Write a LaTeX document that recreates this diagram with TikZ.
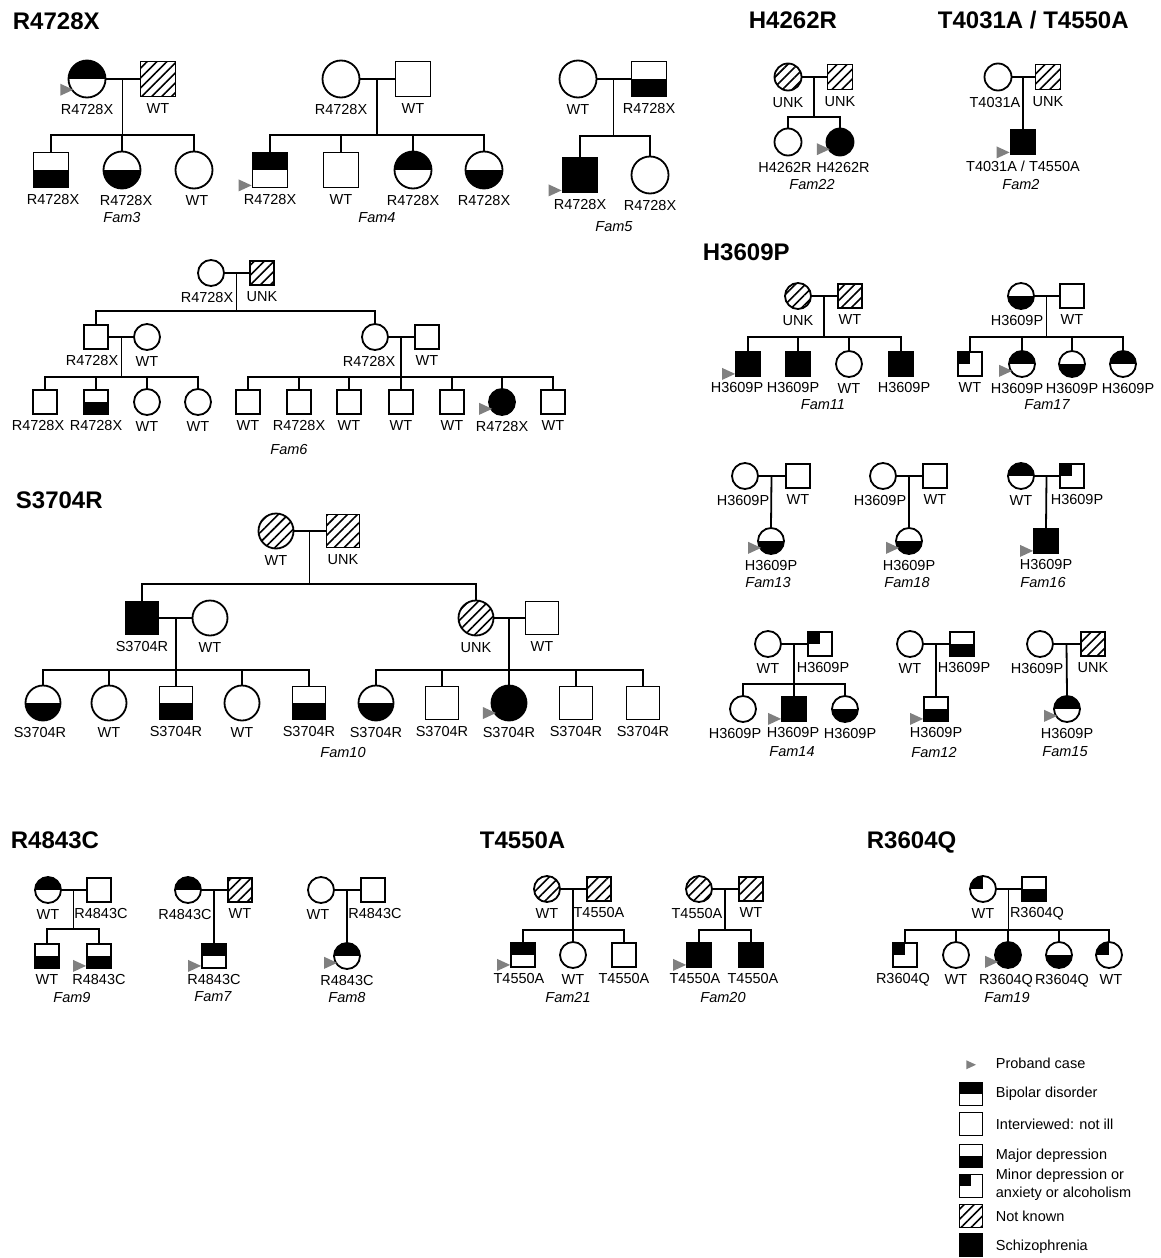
\documentclass[tikz,border=0pt]{standalone}
\usepackage{fontspec}
\setmainfont{Liberation Sans}
\usetikzlibrary{calc,patterns.meta}

\begin{document}
\begin{tikzpicture}[x=1pt, y=-1pt, line width=1.8pt,
    sq/.style={draw, fill=white, rectangle, inner sep=0pt, minimum size=#1}, sq/.default=24,
    ci/.style={draw, fill=white, circle, inner sep=0pt, minimum size=#1}, ci/.default=26,
    bp/.style={path picture={\fill[black] (path picture bounding box.north west) rectangle (path picture bounding box.east);}},
    md/.style={path picture={\fill[black] (path picture bounding box.west) rectangle (path picture bounding box.south east);}},
    mi/.style={path picture={\fill[black] (path picture bounding box.north west) rectangle (path picture bounding box.center);}},
    nk/.style={pattern={Lines[angle=45, distance=7pt, line width=1.6pt]}},
    sz/.style={fill=black},
    label distance=5pt,
    every label/.style={font=\fontsize{14.5}{17}\selectfont, inner sep=0pt},
    hd/.style={font=\bfseries\fontsize{24}{28}\selectfont, anchor=base west, inner sep=0pt},
    fam/.style={font=\itshape\fontsize{14.5}{17}\selectfont, inner sep=0pt},
    lgt/.style={font=\fontsize{14.5}{18}\selectfont, anchor=west, align=left, inner sep=0pt},
    proband/.pic={\fill[gray] (0,-3) -- ++(-13,-6) -- ++(0,12) -- cycle;}]
    \useasboundingbox (0,0) rectangle (1160,1258);

    % R4728X
    \node[hd] (h1) at (12,29) {R4728X};
    \node[ci=37, bp, label=below:R4728X] (f3m) at (87,79) {};
    \node[sq=35, nk, label=below:WT] (f3f) at (158,79) {};
    \node[sq=35, md, label={[xshift=2pt]below:R4728X}] (f3k1) at (51,170) {};
    \node[ci=37, md, label={[xshift=4pt]below:R4728X}] (f3k2) at (122,170) {};
    \node[ci=37, label={[xshift=3pt]below:WT}] (f3k3) at (194,170) {};
    \node[fam] (t3) at (122,218) {Fam3};
    \coordinate (f3u) at ($(f3m)!0.5!(f3f)$);
    \draw (f3m) -- (f3f);
    \draw (f3u) -- ++(0,56) coordinate (f3s);
    \draw (f3k1.north) |- (f3s) -| (f3k3.north);
    \draw (f3k2.north) -- (f3k2.north |- f3s);
    \path (f3m.225) pic {proband};

    \node[ci=37, label=below:R4728X] (f4m) at (341,79) {};
    \node[sq=35, label=below:WT] (f4f) at (413,79) {};
    \node[sq=35, bp, label=below:R4728X] (f4k1) at (270,170) {};
    \node[sq=35, label=below:WT] (f4k2) at (341,170) {};
    \node[ci=37, bp, label=below:R4728X] (f4k3) at (413,170) {};
    \node[ci=37, md, label=below:R4728X] (f4k4) at (484,170) {};
    \node[fam] (t4) at (377,218) {Fam4};
    \coordinate (f4u) at ($(f4m)!0.5!(f4f)$);
    \draw (f4m) -- (f4f);
    \draw (f4u) -- ++(0,56) coordinate (f4s);
    \draw (f4k1.north) |- (f4s) -| (f4k4.north);
    \foreach \k in {f4k2,f4k3} \draw (\k.north) -- (\k.north |- f4s);
    \path (f4k1.225) pic {proband};

    \node[ci=37, label=below:WT] (f5m) at (578,79) {};
    \node[sq=35, md, label=below:R4728X] (f5f) at (649,79) {};
    \node[sq=35, sz, label=below:R4728X] (f5k1) at (580,175) {};
    \node[ci=37, label=below:R4728X] (f5k2) at (650,175) {};
    \node[fam] (t5) at (614,227) {Fam5};
    \coordinate (f5u) at ($(f5m)!0.5!(f5f)$);
    \draw (f5m) -- (f5f);
    \draw (f5u) -- ++(0,57) coordinate (f5s);
    \draw (f5k1.north) |- (f5s) -| (f5k2.north);
    \path (f5k1.225) pic {proband};

    % H4262R, T4031A / T4550A
    \node[hd] (h2) at (748,28) {H4262R};
    \node[ci=27, nk, label=below:UNK] (f22m) at (788,77) {};
    \node[sq=25, nk, label=below:UNK] (f22f) at (840,77) {};
    \node[ci=27, label={[xshift=-3pt]below:H4262R}] (f22k1) at (788,142) {};
    \node[ci=27, sz, label={[xshift=3pt]below:H4262R}] (f22k2) at (840,142) {};
    \node[fam] (t22) at (812,185) {Fam22};
    \coordinate (f22u) at ($(f22m)!0.5!(f22f)$);
    \draw (f22m) -- (f22f);
    \draw (f22u) -- ++(0,40) coordinate (f22s);
    \draw (f22k1.north) |- (f22s) -| (f22k2.north);
    \path (f22k2.225) pic {proband};

    \node[hd] (h3) at (937,28) {T4031A / T4550A};
    \node[ci=27, label={[xshift=-3pt]below:T4031A}] (f2m) at (998,77) {};
    \node[sq=25, nk, label=below:UNK] (f2f) at (1048,77) {};
    \node[sq=25, sz, label=below:T4031A / T4550A] (f2k) at (1023,142) {};
    \node[fam] (t2) at (1021,185) {Fam2};
    \coordinate (f2u) at ($(f2m)!0.5!(f2f)$);
    \draw (f2m) -- (f2f);
    \draw (f2u) -- (f2k.north);
    \path (f2k.225) pic {proband};

    % Fam6
    \node[ci=26, label={[xshift=-4pt]below:R4728X}] (f6m) at (211,273) {};
    \node[sq=24, nk, label=below:UNK] (f6f) at (262,273) {};
    \node[sq=24, label={[xshift=-4pt]below:R4728X}] (f6a) at (96,337) {};
    \node[ci=26, label=below:WT] (f6aw) at (147,337) {};
    \node[ci=26, label={[xshift=-6pt]below:R4728X}] (f6b) at (375,337) {};
    \node[sq=24, label=below:WT] (f6bh) at (427,337) {};
    \node[sq=24, label={[xshift=-7pt]below:R4728X}] (f6a1) at (45,402) {};
    \node[sq=24, md, label=below:R4728X] (f6a2) at (96,402) {};
    \node[ci=26, label=below:WT] (f6a3) at (147,402) {};
    \node[ci=26, label=below:WT] (f6a4) at (198,402) {};
    \node[sq=24, label=below:WT] (f6b1) at (248,402) {};
    \node[sq=24, label=below:R4728X] (f6b2) at (299,402) {};
    \node[sq=24, label=below:WT] (f6b3) at (349,402) {};
    \node[sq=24, label=below:WT] (f6b4) at (401,402) {};
    \node[sq=24, label=below:WT] (f6b5) at (452,402) {};
    \node[ci=26, sz, label=below:R4728X] (f6b6) at (502,402) {};
    \node[sq=24, label=below:WT] (f6b7) at (553,402) {};
    \node[fam] (t6) at (289,450) {Fam6};
    \coordinate (f6u) at ($(f6m)!0.5!(f6f)$);
    \draw (f6m) -- (f6f);
    \draw (f6u) -- ++(0,38) coordinate (f6s);
    \draw (f6a.north) |- (f6s) -| (f6b.north);
    \coordinate (f6au) at ($(f6a)!0.5!(f6aw)$);
    \draw (f6a) -- (f6aw);
    \draw (f6au) -- ++(0,40) coordinate (f6as);
    \draw (f6a1.north) |- (f6as) -| (f6a4.north);
    \foreach \k in {f6a2,f6a3} \draw (\k.north) -- (\k.north |- f6as);
    \coordinate (f6bu) at ($(f6b)!0.5!(f6bh)$);
    \draw (f6b) -- (f6bh);
    \draw (f6bu) -- ++(0,40) coordinate (f6bs);
    \draw (f6b1.north) |- (f6bs) -| (f6b7.north);
    \foreach \k in {f6b2,f6b3,f6b4,f6b5,f6b6} \draw (\k.north) -- (\k.north |- f6bs);
    \path (f6b6.225) pic {proband};

    % H3609P
    \node[hd] (h4) at (702,260) {H3609P};
    \node[ci=26, nk, label=below:UNK] (f11m) at (798,296) {};
    \node[sq=24, nk, label=below:WT] (f11f) at (850,296) {};
    \node[sq=24, sz, label={[xshift=-11pt]below:H3609P}] (f11k1) at (748,364) {};
    \node[sq=24, sz, label={[xshift=-5pt]below:H3609P}] (f11k2) at (798,364) {};
    \node[ci=26, label=below:WT] (f11k3) at (849,364) {};
    \node[sq=24, sz, label={[xshift=3pt]below:H3609P}] (f11k4) at (901,364) {};
    \node[fam] (t11) at (823,405) {Fam11};
    \coordinate (f11u) at ($(f11m)!0.5!(f11f)$);
    \draw (f11m) -- (f11f);
    \draw (f11u) -- ++(0,41) coordinate (f11s);
    \draw (f11k1.north) |- (f11s) -| (f11k4.north);
    \foreach \k in {f11k2,f11k3} \draw (\k.north) -- (\k.north |- f11s);
    \path (f11k1.225) pic {proband};

    \node[ci=26, md, label={[xshift=-4pt]below:H3609P}] (f17m) at (1021,296) {};
    \node[sq=24, label=below:WT] (f17f) at (1072,296) {};
    \node[sq=24, mi, label=below:WT] (f17k1) at (970,364) {};
    \node[ci=26, bp, label={[xshift=-5pt]below:H3609P}] (f17k2) at (1022,364) {};
    \node[ci=26, md, label=below:H3609P] (f17k3) at (1072,364) {};
    \node[ci=26, bp, label={[xshift=5pt]below:H3609P}] (f17k4) at (1123,364) {};
    \node[fam] (t17) at (1047,405) {Fam17};
    \coordinate (f17u) at ($(f17m)!0.5!(f17f)$);
    \draw (f17m) -- (f17f);
    \draw (f17u) -- ++(0,41) coordinate (f17s);
    \draw (f17k1.north) |- (f17s) -| (f17k4.north);
    \foreach \k in {f17k2,f17k3} \draw (\k.north) -- (\k.north |- f17s);
    \path (f17k2.225) pic {proband};

    \node[ci=26, label={[xshift=-2pt]below:H3609P}] (f13m) at (745,476) {};
    \node[sq=24, label=below:WT] (f13f) at (798,476) {};
    \node[ci=26, md, label=below:H3609P] (f13k) at (771,541) {};
    \node[fam] (t13) at (768,583) {Fam13};
    \coordinate (f13u) at ($(f13m)!0.5!(f13f)$);
    \draw (f13m) -- (f13f);
    \draw (f13u) -- (f13k.north);
    \path (f13k.225) pic {proband};

    \node[ci=26, label={[xshift=-3pt]below:H3609P}] (f18m) at (883,476) {};
    \node[sq=24, label=below:WT] (f18f) at (935,476) {};
    \node[ci=26, md, label=below:H3609P] (f18k) at (909,541) {};
    \node[fam] (t18) at (907,583) {Fam18};
    \coordinate (f18u) at ($(f18m)!0.5!(f18f)$);
    \draw (f18m) -- (f18f);
    \draw (f18u) -- (f18k.north);
    \path (f18k.225) pic {proband};

    \node[ci=26, bp, label=below:WT] (f16m) at (1021,476) {};
    \node[sq=24, mi, label={[xshift=5pt]below:H3609P}] (f16f) at (1072,476) {};
    \node[sq=24, sz, label=below:H3609P] (f16k) at (1046,541) {};
    \node[fam] (t16) at (1043,583) {Fam16};
    \coordinate (f16u) at ($(f16m)!0.5!(f16f)$);
    \draw (f16m) -- (f16f);
    \draw (f16u) -- (f16k.north);
    \path (f16k.225) pic {proband};

    \node[ci=26, label=below:WT] (f14m) at (768,644) {};
    \node[sq=24, mi, label={[xshift=3pt]below:H3609P}] (f14f) at (820,644) {};
    \node[ci=26, label={[xshift=-8pt]below:H3609P}] (f14k1) at (743,709) {};
    \node[sq=24, sz, label={[xshift=-1pt]below:H3609P}] (f14k2) at (794,709) {};
    \node[ci=26, md, label={[xshift=5pt]below:H3609P}] (f14k3) at (845,709) {};
    \node[fam] (t14) at (792,752) {Fam14};
    \coordinate (f14u) at ($(f14m)!0.5!(f14f)$);
    \draw (f14m) -- (f14f);
    \draw (f14u) -- ++(0,40) coordinate (f14s);
    \draw (f14k1.north) |- (f14s) -| (f14k3.north);
    \draw (f14k2.north) -- (f14k2.north |- f14s);
    \path (f14k2.225) pic {proband};

    \node[ci=26, label=below:WT] (f12m) at (910,644) {};
    \node[sq=24, md, label={[xshift=2pt]below:H3609P}] (f12f) at (962,644) {};
    \node[sq=24, md, label=below:H3609P] (f12k) at (936,709) {};
    \node[fam] (t12) at (934,752) {Fam12};
    \coordinate (f12u) at ($(f12m)!0.5!(f12f)$);
    \draw (f12m) -- (f12f);
    \draw (f12u) -- (f12k.north);
    \path (f12k.225) pic {proband};

    \node[ci=26, label={[xshift=-3pt]below:H3609P}] (f15m) at (1040,644) {};
    \node[sq=24, nk, label=below:UNK] (f15f) at (1093,644) {};
    \node[ci=26, bp, label=below:H3609P] (f15k) at (1067,709) {};
    \node[fam] (t15) at (1065,752) {Fam15};
    \coordinate (f15u) at ($(f15m)!0.5!(f15f)$);
    \draw (f15m) -- (f15f);
    \draw (f15u) -- (f15k.north);
    \path (f15k.225) pic {proband};

    % S3704R
    \node[hd] (h5) at (15,508) {S3704R};
    \node[ci=35, nk, label=below:WT] (f10m) at (276,531) {};
    \node[sq=33, nk, label=below:UNK] (f10f) at (343,531) {};
    \node[sq=33, sz, label=below:S3704R] (f10a) at (142,618) {};
    \node[ci=35, label=below:WT] (f10aw) at (210,618) {};
    \node[ci=35, nk, label=below:UNK] (f10b) at (476,618) {};
    \node[sq=33, label=below:WT] (f10bh) at (542,618) {};
    \node[ci=35, md, label={[xshift=-3pt]below:S3704R}] (f10a1) at (43,703) {};
    \node[ci=35, label=below:WT] (f10a2) at (109,703) {};
    \node[sq=33, md, label=below:S3704R] (f10a3) at (176,703) {};
    \node[ci=35, label=below:WT] (f10a4) at (242,703) {};
    \node[sq=33, md, label=below:S3704R] (f10a5) at (309,703) {};
    \node[ci=35, md, label=below:S3704R] (f10b1) at (376,703) {};
    \node[sq=33, label=below:S3704R] (f10b2) at (442,703) {};
    \node[ci=35, sz, label=below:S3704R] (f10b3) at (509,703) {};
    \node[sq=33, label=below:S3704R] (f10b4) at (576,703) {};
    \node[sq=33, label=below:S3704R] (f10b5) at (643,703) {};
    \node[fam] (t10) at (343,752) {Fam10};
    \coordinate (f10u) at ($(f10m)!0.5!(f10f)$);
    \draw (f10m) -- (f10f);
    \draw (f10u) -- ++(0,53) coordinate (f10s);
    \draw (f10a.north) |- (f10s) -| (f10b.north);
    \coordinate (f10au) at ($(f10a)!0.5!(f10aw)$);
    \draw (f10a) -- (f10aw);
    \draw (f10au) -- ++(0,52) coordinate (f10as);
    \draw (f10a1.north) |- (f10as) -| (f10a5.north);
    \foreach \k in {f10a2,f10a3,f10a4} \draw (\k.north) -- (\k.north |- f10as);
    \coordinate (f10bu) at ($(f10b)!0.5!(f10bh)$);
    \draw (f10b) -- (f10bh);
    \draw (f10bu) -- ++(0,52) coordinate (f10bs);
    \draw (f10b1.north) |- (f10bs) -| (f10b5.north);
    \foreach \k in {f10b2,f10b3,f10b4} \draw (\k.north) -- (\k.north |- f10bs);
    \path (f10b3.225) pic {proband};

    % R4843C
    \node[hd] (h6) at (10,848) {R4843C};
    \node[ci=26, bp, label=below:WT] (f9m) at (48,890) {};
    \node[sq=24, label={[xshift=2pt]below:R4843C}] (f9f) at (99,890) {};
    \node[sq=24, md, label=below:WT] (f9k1) at (47,956) {};
    \node[sq=24, md, label=below:R4843C] (f9k2) at (99,956) {};
    \node[fam] (t9) at (72,997) {Fam9};
    \coordinate (f9u) at ($(f9m)!0.5!(f9f)$);
    \draw (f9m) -- (f9f);
    \draw (f9u) -- ++(0,39) coordinate (f9s);
    \draw (f9k1.north) |- (f9s) -| (f9k2.north);
    \path (f9k2.225) pic {proband};

    \node[ci=26, bp, label={[xshift=-3pt]below:R4843C}] (f7m) at (188,890) {};
    \node[sq=24, nk, label=below:WT] (f7f) at (240,890) {};
    \node[sq=24, bp, label=below:R4843C] (f7k) at (214,956) {};
    \node[fam] (t7) at (213,997) {Fam7};
    \coordinate (f7u) at ($(f7m)!0.5!(f7f)$);
    \draw (f7m) -- (f7f);
    \draw (f7u) -- (f7k.north);
    \path (f7k.225) pic {proband};

    \node[ci=26, label={[xshift=-3pt]below:WT}] (f8m) at (321,890) {};
    \node[sq=24, label={[xshift=2pt]below:R4843C}] (f8f) at (373,890) {};
    \node[ci=26, bp, label=below:R4843C] (f8k) at (347,956) {};
    \node[fam] (t8) at (347,997) {Fam8};
    \coordinate (f8u) at ($(f8m)!0.5!(f8f)$);
    \draw (f8m) -- (f8f);
    \draw (f8u) -- (f8k.north);
    \path (f8k.225) pic {proband};

    % T4550A
    \node[hd] (h7) at (479,848) {T4550A};
    \node[ci=26, nk, label=below:WT] (f21m) at (547,889) {};
    \node[sq=24, nk, label=below:T4550A] (f21f) at (599,889) {};
    \node[sq=24, bp, label={[xshift=-4pt]below:T4550A}] (f21k1) at (523,955) {};
    \node[ci=26, label=below:WT] (f21k2) at (573,955) {};
    \node[sq=24, label=below:T4550A] (f21k3) at (624,955) {};
    \node[fam] (t21) at (568,997) {Fam21};
    \coordinate (f21u) at ($(f21m)!0.5!(f21f)$);
    \draw (f21m) -- (f21f);
    \draw (f21u) -- ++(0,41) coordinate (f21s);
    \draw (f21k1.north) |- (f21s) -| (f21k3.north);
    \draw (f21k2.north) -- (f21k2.north |- f21s);
    \path (f21k1.225) pic {proband};

    \node[ci=26, nk, label={[xshift=-2pt]below:T4550A}] (f20m) at (699,889) {};
    \node[sq=24, nk, label=below:WT] (f20f) at (751,889) {};
    \node[sq=24, sz, label={[xshift=-4pt]below:T4550A}] (f20k1) at (699,955) {};
    \node[sq=24, sz, label={[xshift=2pt]below:T4550A}] (f20k2) at (751,955) {};
    \node[fam] (t20) at (723,997) {Fam20};
    \coordinate (f20u) at ($(f20m)!0.5!(f20f)$);
    \draw (f20m) -- (f20f);
    \draw (f20u) -- ++(0,41) coordinate (f20s);
    \draw (f20k1.north) |- (f20s) -| (f20k2.north);
    \path (f20k1.225) pic {proband};

    % R3604Q
    \node[hd] (h8) at (866,848) {R3604Q};
    \node[ci=26, mi, label=below:WT] (f19m) at (983,889) {};
    \node[sq=24, md, label={[xshift=3pt]below:R3604Q}] (f19f) at (1034,889) {};
    \node[sq=24, mi, label={[xshift=-2pt]below:R3604Q}] (f19k1) at (905,955) {};
    \node[ci=26, label=below:WT] (f19k2) at (956,955) {};
    \node[ci=26, sz, label={[xshift=-2pt]below:R3604Q}] (f19k3) at (1008,955) {};
    \node[ci=26, md, label={[xshift=3pt]below:R3604Q}] (f19k4) at (1059,955) {};
    \node[ci=26, mi, label={[xshift=2pt]below:WT}] (f19k5) at (1109,955) {};
    \node[fam] (t19) at (1007,997) {Fam19};
    \coordinate (f19u) at ($(f19m)!0.5!(f19f)$);
    \draw (f19m) -- (f19f);
    \draw (f19u) -- ++(0,41) coordinate (f19s);
    \draw (f19k1.north) |- (f19s) -| (f19k5.north);
    \foreach \k in {f19k2,f19k3,f19k4} \draw (\k.north) -- (\k.north |- f19s);
    \path (f19k3.225) pic {proband};

    % legend
    \coordinate (lg0) at (976,1067);
    \path (lg0) pic[scale=0.75] {proband};
    \node[lgt] (lt0) at (995,1063) {Proband case};
    \node[sq=23, bp] (ls1) at (971,1094) {};
    \node[lgt] (lt1) at (995,1094) {Bipolar disorder};
    \node[sq=23] (ls2) at (971,1124) {};
    \node[lgt] (lt2) at (995,1124) {Interviewed: not ill};
    \node[sq=23, md] (ls3) at (971,1156) {};
    \node[lgt] (lt3) at (995,1156) {Major depression};
    \node[sq=23, mi] (ls4) at (971,1186) {};
    \node[lgt] (lt4) at (995,1185) {Minor depression or\\anxiety or alcoholism};
    \node[sq=23, nk] (ls5) at (971,1216) {};
    \node[lgt] (lt5) at (995,1216) {Not known};
    \node[sq=23, sz] (ls6) at (971,1245) {};
    \node[lgt] (lt6) at (995,1247) {Schizophrenia};
\end{tikzpicture}
\end{document}
